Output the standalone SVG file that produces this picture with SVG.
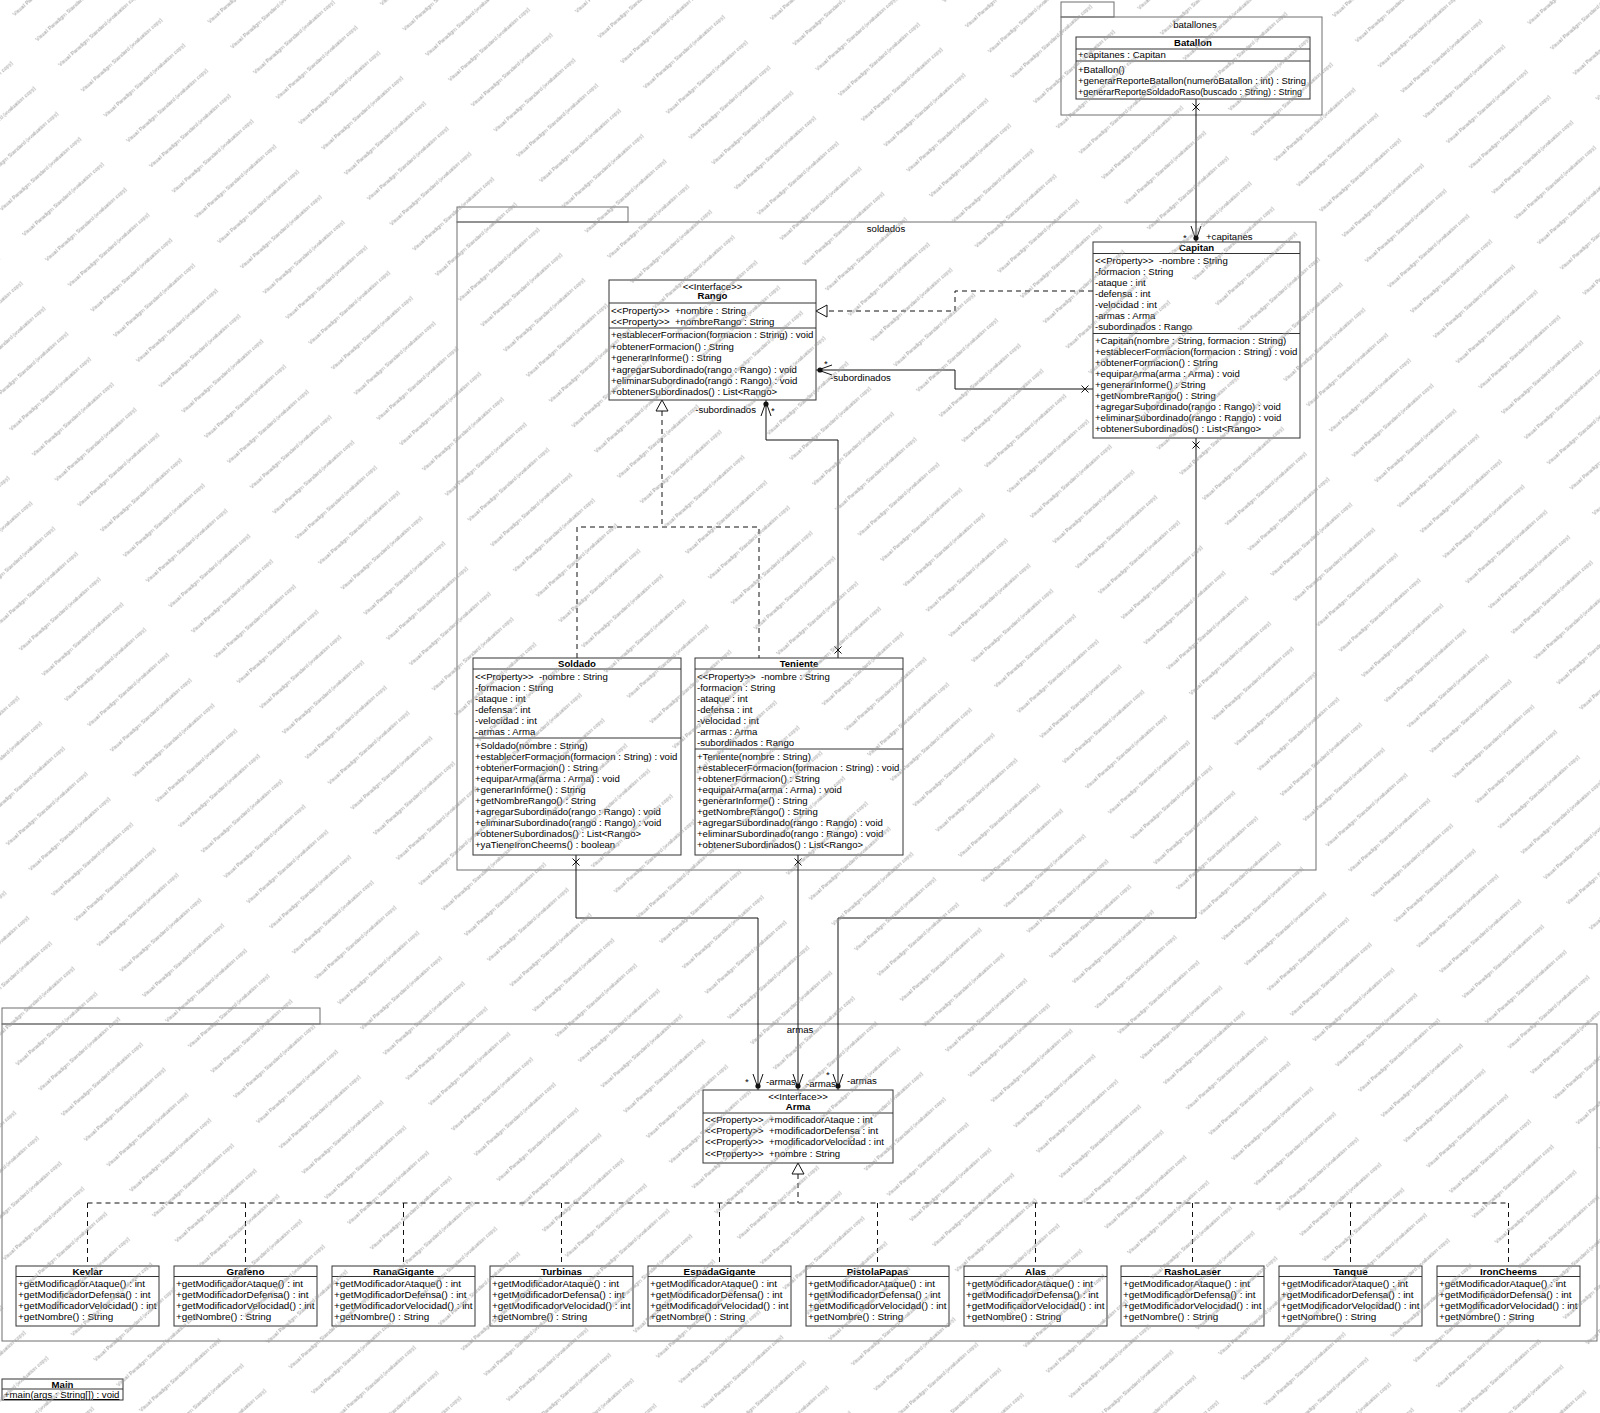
<svg xmlns="http://www.w3.org/2000/svg" width="1600" height="1413" viewBox="0 0 1600 1413">
<style>
text{font-family:"Liberation Sans",Arial,sans-serif;font-size:9.6px;fill:#000;white-space:pre}
.n{font-weight:bold;text-anchor:middle}
.m{text-anchor:middle}
.e{text-anchor:end}
.u{text-decoration:underline}
.bt text{font-size:9.9px}
.pk{fill:none;stroke:#6e6e6e;stroke-width:1}
.cl{fill:#fff;stroke:#333;stroke-width:1}
.dv{stroke:#333;stroke-width:1}
.ln{fill:none;stroke:#111;stroke-width:1}
.da{stroke-dasharray:5 4}
.wm{font-size:5.5px;fill:#9a9a9a}
</style>
<defs>
<path id="xm" d="M-3.5 -3.5L3.5 3.5M-3.5 3.5L3.5 -3.5" fill="none" stroke="#111" stroke-width="1"/>
<g id="ar"><path d="M-5 -16L0 -2L5 -16" fill="none" stroke="#111" stroke-width="1"/><circle cx="0" cy="-4" r="2.6" fill="#111"/></g>
<path id="tr" d="M0 0L-6 11L6 11Z" fill="#fff" stroke="#111" stroke-width="1"/>
<pattern id="wmp" patternUnits="userSpaceOnUse" width="140" height="34" patternTransform="rotate(-42)">
<text class="wm" x="0" y="22">Visual Paradigm Standard (evaluation copy)</text>
</pattern>
</defs>
<rect x="0" y="0" width="1600" height="1413" fill="#fff"/>

<g id="pkg-batallones">
<rect class="pk" x="1061" y="2" width="53" height="15"/>
<rect class="pk" x="1061" y="17" width="261" height="98"/>
<text class="m" x="1195" y="28">batallones</text>
</g>
<g id="pkg-soldados">
<rect class="pk" x="457" y="207" width="171" height="15"/>
<rect class="pk" x="457" y="222" width="859" height="648"/>
<text class="m" x="886" y="232">soldados</text>
</g>
<g id="pkg-armas">
<rect class="pk" x="2" y="1008" width="318" height="16"/>
<rect class="pk" x="2" y="1024" width="1595" height="317"/>
<text class="m" x="800" y="1033">armas</text>
</g>

<g id="connectors">
<line class="ln" x1="1196" y1="99" x2="1196" y2="242"/>
<use href="#xm" x="1196" y="107"/>
<use href="#ar" transform="translate(1196,242)"/>
<text x="1183" y="241">*</text>
<text x="1206" y="239.5">+capitanes</text>

<polyline class="ln da" points="1093,291 955,291 955,311 827,311"/>
<use href="#tr" transform="translate(816,311) rotate(-90)"/>

<polyline class="ln" points="1093,389 955,389 955,370 816,370"/>
<use href="#xm" x="1085" y="389"/>
<use href="#ar" transform="translate(816,370) rotate(90)"/>
<text x="824" y="367">*</text>
<text x="830" y="380.5">-subordinados</text>

<polyline class="ln" points="838,658 838,440 766,440 766,400"/>
<use href="#xm" x="838" y="650"/>
<use href="#ar" transform="translate(766,400) rotate(180)"/>
<text x="771" y="414">*</text>
<text class="e" x="756" y="412.5">-subordinados</text>

<use href="#tr" transform="translate(662,400)"/>
<polyline class="ln da" points="662,411 662,527"/>
<polyline class="ln da" points="577,658 577,527 759,527 759,658"/>

<polyline class="ln" points="576,855 576,918 758,918 758,1090"/>
<use href="#xm" x="576" y="862"/>
<use href="#ar" transform="translate(758,1090)"/>
<text x="745" y="1085">*</text>
<text x="766" y="1084.5">-armas</text>

<line class="ln" x1="798" y1="855" x2="798" y2="1090"/>
<use href="#xm" x="798" y="862"/>
<use href="#ar" transform="translate(798,1090)"/>
<text x="806" y="1087">-armas</text>

<polyline class="ln" points="1196,438 1196,918 838,918 838,1090"/>
<use href="#xm" x="1196" y="445"/>
<use href="#ar" transform="translate(838,1090)"/>
<text x="826" y="1078">*</text>
<text x="847" y="1084">-armas</text>

<use href="#tr" transform="translate(798,1163)"/>
<polyline class="ln da" points="798,1174 798,1203"/>
<polyline class="ln da" points="87.5,1203 1508.5,1203"/>
<path class="ln da" d="M87.5 1203V1266M245.5 1203V1266M403.5 1203V1266M561.5 1203V1266M719.5 1203V1266M877.5 1203V1266M1035.5 1203V1266M1192.5 1203V1266M1350.5 1203V1266M1508.5 1203V1266"/>
</g>

<g id="Batallon">
<rect class="cl" x="1076" y="37" width="234" height="62"/>
<line class="dv" x1="1076" y1="49" x2="1310" y2="49"/>
<line class="dv" x1="1076" y1="61" x2="1310" y2="61"/>
<text class="n" x="1193" y="46">Batallon</text>
<text x="1078" y="57.5">+capitanes : Capitan</text>
<text x="1078" y="73">+Batallon()</text>
<text x="1078" y="83.5" textLength="228" lengthAdjust="spacingAndGlyphs">+generarReporteBatallon(numeroBatallon : int) : String</text>
<text x="1078" y="94.5" textLength="224" lengthAdjust="spacingAndGlyphs">+generarReporteSoldadoRaso(buscado : String) : String</text>
</g>

<g id="Capitan">
<rect class="cl" x="1093" y="242" width="207" height="196"/>
<line class="dv" x1="1093" y1="253.5" x2="1300" y2="253.5"/>
<line class="dv" x1="1093" y1="333.5" x2="1300" y2="333.5"/>
<text class="n" x="1196.5" y="251">Capitan</text>
<text x="1095" y="263.5">&lt;&lt;Property&gt;&gt;  -nombre : String</text>
<text x="1095" y="274.5">-formacion : String</text>
<text x="1095" y="285.5">-ataque : int</text>
<text x="1095" y="296.5">-defensa : int</text>
<text x="1095" y="307.5">-velocidad : int</text>
<text x="1095" y="318.5">-armas : Arma</text>
<text x="1095" y="329.5">-subordinados : Rango</text>
<text x="1095" y="343.5">+Capitan(nombre : String, formacion : String)</text>
<text x="1095" y="354.6">+establecerFormacion(formacion : String) : void</text>
<text x="1095" y="365.7">+obtenerFormacion() : String</text>
<text x="1095" y="376.8">+equiparArma(arma : Arma) : void</text>
<text x="1095" y="387.9">+generarInforme() : String</text>
<text x="1095" y="399">+getNombreRango() : String</text>
<text x="1095" y="410.1">+agregarSubordinado(rango : Rango) : void</text>
<text x="1095" y="421.2">+eliminarSubordinado(rango : Rango) : void</text>
<text x="1095" y="432.3">+obtenerSubordinados() : List&lt;Rango&gt;</text>
</g>

<g id="Rango">
<rect class="cl" x="609" y="280" width="207" height="120"/>
<line class="dv" x1="609" y1="303" x2="816" y2="303"/>
<line class="dv" x1="609" y1="328" x2="816" y2="328"/>
<text class="m" x="712.5" y="289.5">&lt;&lt;Interface&gt;&gt;</text>
<text class="n" x="712.5" y="299">Rango</text>
<text x="611" y="313.5">&lt;&lt;Property&gt;&gt;  +nombre : String</text>
<text x="611" y="325">&lt;&lt;Property&gt;&gt;  +nombreRango : String</text>
<text x="611" y="337.8">+establecerFormacion(formacion : String) : void</text>
<text x="611" y="349.5">+obtenerFormacion() : String</text>
<text x="611" y="360.8">+generarInforme() : String</text>
<text x="611" y="372.5">+agregarSubordinado(rango : Rango) : void</text>
<text x="611" y="383.5">+eliminarSubordinado(rango : Rango) : void</text>
<text x="611" y="394.5">+obtenerSubordinados() : List&lt;Rango&gt;</text>
</g>

<g id="Soldado">
<rect class="cl" x="473" y="658" width="208" height="197"/>
<line class="dv" x1="473" y1="669" x2="681" y2="669"/>
<line class="dv" x1="473" y1="738" x2="681" y2="738"/>
<text class="n" x="577" y="666.5">Soldado</text>
<text x="475" y="679.5">&lt;&lt;Property&gt;&gt;  -nombre : String</text>
<text x="475" y="690.5">-formacion : String</text>
<text x="475" y="701.5">-ataque : int</text>
<text x="475" y="712.5">-defensa : int</text>
<text x="475" y="723.5">-velocidad : int</text>
<text x="475" y="734.5">-armas : Arma</text>
<text x="475" y="748.8">+Soldado(nombre : String)</text>
<text x="475" y="759.8">+establecerFormacion(formacion : String) : void</text>
<text x="475" y="770.8">+obtenerFormacion() : String</text>
<text x="475" y="781.8">+equiparArma(arma : Arma) : void</text>
<text x="475" y="792.8">+generarInforme() : String</text>
<text x="475" y="803.8">+getNombreRango() : String</text>
<text x="475" y="814.8">+agregarSubordinado(rango : Rango) : void</text>
<text x="475" y="825.8">+eliminarSubordinado(rango : Rango) : void</text>
<text x="475" y="836.8">+obtenerSubordinados() : List&lt;Rango&gt;</text>
<text x="475" y="847.8">+yaTieneIronCheems() : boolean</text>
</g>

<g id="Teniente">
<rect class="cl" x="695" y="658" width="208" height="197"/>
<line class="dv" x1="695" y1="669" x2="903" y2="669"/>
<line class="dv" x1="695" y1="749" x2="903" y2="749"/>
<text class="n" x="799" y="666.5">Teniente</text>
<text x="697" y="679.5">&lt;&lt;Property&gt;&gt;  -nombre : String</text>
<text x="697" y="690.5">-formacion : String</text>
<text x="697" y="701.5">-ataque : int</text>
<text x="697" y="712.5">-defensa : int</text>
<text x="697" y="723.5">-velocidad : int</text>
<text x="697" y="734.5">-armas : Arma</text>
<text x="697" y="745.5">-subordinados : Rango</text>
<text x="697" y="760.2">+Teniente(nombre : String)</text>
<text x="697" y="771.2">+establecerFormacion(formacion : String) : void</text>
<text x="697" y="782.2">+obtenerFormacion() : String</text>
<text x="697" y="793.2">+equiparArma(arma : Arma) : void</text>
<text x="697" y="804.2">+generarInforme() : String</text>
<text x="697" y="815.2">+getNombreRango() : String</text>
<text x="697" y="826.2">+agregarSubordinado(rango : Rango) : void</text>
<text x="697" y="837.2">+eliminarSubordinado(rango : Rango) : void</text>
<text x="697" y="848.2">+obtenerSubordinados() : List&lt;Rango&gt;</text>
</g>

<g id="Arma">
<rect class="cl" x="703" y="1090" width="190" height="73"/>
<line class="dv" x1="703" y1="1113" x2="893" y2="1113"/>
<text class="m" x="798" y="1099.5">&lt;&lt;Interface&gt;&gt;</text>
<text class="n" x="798" y="1109.5">Arma</text>
<text x="705" y="1123">&lt;&lt;Property&gt;&gt;  +modificadorAtaque : int</text>
<text x="705" y="1134">&lt;&lt;Property&gt;&gt;  +modificadorDefensa : int</text>
<text x="705" y="1145.3">&lt;&lt;Property&gt;&gt;  +modificadorVelocidad : int</text>
<text x="705" y="1156.5">&lt;&lt;Property&gt;&gt;  +nombre : String</text>
</g>

<g id="Kevlar" class="bt" transform="translate(16,1266)">
<rect class="cl" x="0" y="0" width="143" height="60"/>
<line class="dv" x1="0" y1="10.5" x2="143" y2="10.5"/>
<text class="n" x="71.5" y="8.5">Kevlar</text>
<text x="2" y="20.8">+getModificadorAtaque() : int</text>
<text x="2" y="31.8">+getModificadorDefensa() : int</text>
<text x="2" y="43">+getModificadorVelocidad() : int</text>
<text x="2" y="54">+getNombre() : String</text>
</g>
<g id="Grafeno" class="bt" transform="translate(174,1266)">
<rect class="cl" x="0" y="0" width="143" height="60"/>
<line class="dv" x1="0" y1="10.5" x2="143" y2="10.5"/>
<text class="n" x="71.5" y="8.5">Grafeno</text>
<text x="2" y="20.8">+getModificadorAtaque() : int</text>
<text x="2" y="31.8">+getModificadorDefensa() : int</text>
<text x="2" y="43">+getModificadorVelocidad() : int</text>
<text x="2" y="54">+getNombre() : String</text>
</g>
<g id="RanaGigante" class="bt" transform="translate(332,1266)">
<rect class="cl" x="0" y="0" width="143" height="60"/>
<line class="dv" x1="0" y1="10.5" x2="143" y2="10.5"/>
<text class="n" x="71.5" y="8.5">RanaGigante</text>
<text x="2" y="20.8">+getModificadorAtaque() : int</text>
<text x="2" y="31.8">+getModificadorDefensa() : int</text>
<text x="2" y="43">+getModificadorVelocidad() : int</text>
<text x="2" y="54">+getNombre() : String</text>
</g>
<g id="Turbinas" class="bt" transform="translate(490,1266)">
<rect class="cl" x="0" y="0" width="143" height="60"/>
<line class="dv" x1="0" y1="10.5" x2="143" y2="10.5"/>
<text class="n" x="71.5" y="8.5">Turbinas</text>
<text x="2" y="20.8">+getModificadorAtaque() : int</text>
<text x="2" y="31.8">+getModificadorDefensa() : int</text>
<text x="2" y="43">+getModificadorVelocidad() : int</text>
<text x="2" y="54">+getNombre() : String</text>
</g>
<g id="EspadaGigante" class="bt" transform="translate(648,1266)">
<rect class="cl" x="0" y="0" width="143" height="60"/>
<line class="dv" x1="0" y1="10.5" x2="143" y2="10.5"/>
<text class="n" x="71.5" y="8.5">EspadaGigante</text>
<text x="2" y="20.8">+getModificadorAtaque() : int</text>
<text x="2" y="31.8">+getModificadorDefensa() : int</text>
<text x="2" y="43">+getModificadorVelocidad() : int</text>
<text x="2" y="54">+getNombre() : String</text>
</g>
<g id="PistolaPapas" class="bt" transform="translate(806,1266)">
<rect class="cl" x="0" y="0" width="143" height="60"/>
<line class="dv" x1="0" y1="10.5" x2="143" y2="10.5"/>
<text class="n" x="71.5" y="8.5">PistolaPapas</text>
<text x="2" y="20.8">+getModificadorAtaque() : int</text>
<text x="2" y="31.8">+getModificadorDefensa() : int</text>
<text x="2" y="43">+getModificadorVelocidad() : int</text>
<text x="2" y="54">+getNombre() : String</text>
</g>
<g id="Alas" class="bt" transform="translate(964,1266)">
<rect class="cl" x="0" y="0" width="143" height="60"/>
<line class="dv" x1="0" y1="10.5" x2="143" y2="10.5"/>
<text class="n" x="71.5" y="8.5">Alas</text>
<text x="2" y="20.8">+getModificadorAtaque() : int</text>
<text x="2" y="31.8">+getModificadorDefensa() : int</text>
<text x="2" y="43">+getModificadorVelocidad() : int</text>
<text x="2" y="54">+getNombre() : String</text>
</g>
<g id="RashoLaser" class="bt" transform="translate(1121,1266)">
<rect class="cl" x="0" y="0" width="143" height="60"/>
<line class="dv" x1="0" y1="10.5" x2="143" y2="10.5"/>
<text class="n" x="71.5" y="8.5">RashoLaser</text>
<text x="2" y="20.8">+getModificadorAtaque() : int</text>
<text x="2" y="31.8">+getModificadorDefensa() : int</text>
<text x="2" y="43">+getModificadorVelocidad() : int</text>
<text x="2" y="54">+getNombre() : String</text>
</g>
<g id="Tanque" class="bt" transform="translate(1279,1266)">
<rect class="cl" x="0" y="0" width="143" height="60"/>
<line class="dv" x1="0" y1="10.5" x2="143" y2="10.5"/>
<text class="n" x="71.5" y="8.5">Tanque</text>
<text x="2" y="20.8">+getModificadorAtaque() : int</text>
<text x="2" y="31.8">+getModificadorDefensa() : int</text>
<text x="2" y="43">+getModificadorVelocidad() : int</text>
<text x="2" y="54">+getNombre() : String</text>
</g>
<g id="IronCheems" class="bt" transform="translate(1437,1266)">
<rect class="cl" x="0" y="0" width="143" height="60"/>
<line class="dv" x1="0" y1="10.5" x2="143" y2="10.5"/>
<text class="n" x="71.5" y="8.5">IronCheems</text>
<text x="2" y="20.8">+getModificadorAtaque() : int</text>
<text x="2" y="31.8">+getModificadorDefensa() : int</text>
<text x="2" y="43">+getModificadorVelocidad() : int</text>
<text x="2" y="54">+getNombre() : String</text>
</g>

<g id="Main">
<rect class="cl" x="2" y="1379" width="121" height="21"/>
<line class="dv" x1="2" y1="1389" x2="123" y2="1389"/>
<text class="n" x="62.5" y="1387.5">Main</text>
<text class="u" x="4" y="1398">+main(args : String[]) : void</text>
</g>

<rect id="watermark" x="0" y="0" width="1600" height="1413" fill="url(#wmp)" pointer-events="none"/>
</svg>
